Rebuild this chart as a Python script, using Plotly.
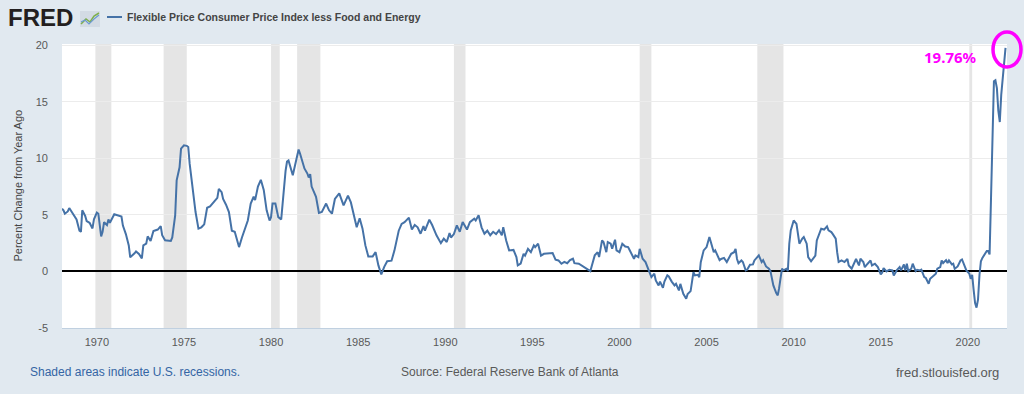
import plotly.graph_objects as go

# ---------------- data ----------------
dates_a = [
    "1968-01", "1968-02", "1968-03", "1968-05", "1968-06", "1968-08", "1968-09", "1968-11",
    "1969-01", "1969-02", "1969-03", "1969-05", "1969-06", "1969-08", "1969-10", "1969-11",
    "1970-01", "1970-02", "1970-04", "1970-05", "1970-06", "1970-08", "1970-09", "1970-10",
    "1971-01", "1971-04", "1971-06", "1971-07", "1971-09", "1971-11", "1971-12",
    "1972-03", "1972-04", "1972-06", "1972-08", "1972-09", "1972-11", "1972-12",
    "1973-02", "1973-04", "1973-07", "1973-09", "1973-10", "1973-12",
    "1974-04", "1974-05", "1974-07", "1974-08", "1974-10", "1974-11",
    "1975-01", "1975-03", "1975-04", "1975-05", "1975-07", "1975-08", "1975-09", "1975-11",
    "1976-01", "1976-03", "1976-05", "1976-07", "1976-10", "1976-12",
]
values_a = [
    5.55, 5.4, 5.1, 5.3, 5.6, 5.2, 4.9, 4.6,
    3.6, 3.5, 5.4, 4.9, 4.45, 4.3, 3.8, 4.6,
    5.2, 5.1, 3.1, 3.5, 4.35, 4.1, 4.6, 4.3,
    5.05, 4.95, 4.85, 4.05, 3.3, 2.3, 1.25,
    1.6, 1.77, 1.55, 1.15, 2.3, 2.45, 3.1,
    2.7, 3.57, 3.7, 4.0, 3.2, 2.75,
    2.7, 3.0, 4.96, 8.05, 9.2, 10.85,
    11.15, 11.1, 11.0, 9.5, 7.46, 6.7, 5.25, 3.78,
    3.9, 4.16, 5.63, 5.75, 6.2, 6.5,
]

dates_b = [
    "1977-01", "1977-03", "1977-04", "1977-06", "1977-08", "1977-10", "1977-12",
    "1978-03", "1978-05", "1978-09", "1978-11",
    "1979-01", "1979-02", "1979-04", "1979-06", "1979-08", "1979-10", "1979-12",
    "1980-01", "1980-02", "1980-04", "1980-06", "1980-08", "1980-09", "1980-11", "1980-12",
    "1981-01", "1981-04", "1981-06", "1981-08", "1981-09", "1981-10", "1981-12",
    "1982-02", "1982-03", "1982-04", "1982-05", "1982-08", "1982-10", "1982-12",
    "1983-03", "1983-05", "1983-07", "1983-09", "1983-12",
    "1984-03", "1984-06", "1984-08", "1984-10", "1984-12",
    "1985-02", "1985-04", "1985-06", "1985-08", "1985-11",
    "1986-01", "1986-03", "1986-05", "1986-07", "1986-09", "1986-12",
]
values_b = [
    7.3, 7.0, 6.4, 5.9, 5.25, 3.6, 3.5,
    2.15, 3.0, 4.5, 6.0,
    6.6, 6.3, 7.5, 8.1, 7.2, 5.4, 4.5,
    4.8, 6.0, 6.0, 4.8, 4.6, 6.3, 8.9, 9.7,
    9.8, 8.5, 9.6, 10.77, 10.4, 10.0, 9.1,
    8.65, 8.3, 8.6, 7.5, 6.6, 5.16, 5.25,
    6.0, 5.4, 5.1, 6.4, 6.9,
    5.84, 6.7, 6.1, 5.1, 3.9,
    4.7, 3.8, 2.3, 1.33, 1.33,
    1.7, 0.53, -0.27, 0.4, 0.9, 0.95,
]

dates_c = [
    "1987-02", "1987-05", "1987-07", "1987-09", "1987-12",
    "1988-02", "1988-04", "1988-06", "1988-08", "1988-10", "1988-11",
    "1989-02", "1989-04", "1989-07", "1989-10", "1989-12",
    "1990-02", "1990-04", "1990-05", "1990-07", "1990-09", "1990-11",
    "1991-01", "1991-04", "1991-06", "1991-09", "1991-10", "1991-12",
    "1992-02", "1992-04", "1992-06", "1992-08", "1992-10", "1992-12",
    "1993-02", "1993-04", "1993-05", "1993-07", "1993-09", "1993-12",
    "1994-02", "1994-03", "1994-05", "1994-07", "1994-08", "1994-10", "1994-12",
    "1995-02", "1995-03", "1995-05", "1995-07", "1995-09", "1995-12",
    "1996-03", "1996-05", "1996-07", "1996-09", "1996-11",
    "1997-01", "1997-03", "1997-05", "1997-06", "1997-09", "1997-12",
    "1998-03", "1998-05", "1998-06", "1998-08", "1998-10", "1998-11",
    "1999-01", "1999-02", "1999-04", "1999-05", "1999-07", "1999-08", "1999-10", "1999-11",
]
values_c = [
    1.86, 3.6, 4.2, 4.35, 4.75,
    3.7, 4.1, 3.9, 3.33, 4.0, 3.6,
    4.57, 4.1, 3.19, 2.5, 2.9,
    2.6, 3.4, 3.0, 3.3, 4.07, 3.5,
    4.36, 3.7, 4.36, 4.66, 4.5, 4.96,
    3.9, 3.33, 3.6, 3.2, 3.5, 3.3,
    3.63, 3.2, 3.9, 2.74, 1.86, 1.9,
    1.27, 0.53, 0.7, 1.56, 1.4, 2.0, 1.7,
    2.3, 2.15, 2.45, 1.4, 1.56, 1.56,
    1.62, 1.04, 0.97, 0.68, 0.85,
    0.73, 1.0, 1.12, 0.73, 0.68, 0.44,
    0.24, 0.03, 0.5, 1.42, 1.7, 1.27,
    2.74, 2.6, 1.7, 2.6, 2.45, 2.0, 2.8, 1.86,
]

dates_d = [
    "2000-01", "2000-03", "2000-05", "2000-07", "2000-08", "2000-11", "2000-12",
    "2001-02", "2001-03", "2001-05", "2001-07", "2001-08", "2001-10", "2001-11",
    "2002-01", "2002-02", "2002-04", "2002-05", "2002-07", "2002-08", "2002-10", "2002-11",
    "2003-01", "2003-03", "2003-04", "2003-06", "2003-07", "2003-09", "2003-11", "2003-12",
    "2004-02", "2004-04", "2004-05", "2004-07", "2004-08", "2004-09", "2004-11",
    "2005-01", "2005-03", "2005-04", "2005-06", "2005-07", "2005-10", "2005-11",
    "2006-01", "2006-03", "2006-05", "2006-06", "2006-08", "2006-09", "2006-10", "2006-11",
    "2007-01", "2007-02", "2007-04", "2007-05", "2007-07", "2007-09", "2007-10", "2007-12",
]
values_d = [
    1.7, 2.45, 2.2, 2.15, 1.9, 1.12, 1.42,
    1.27, 2.0, 1.12, 0.83, 0.53, -0.06, -0.5,
    -0.2, -0.8, -1.24, -0.9, -1.45, -0.9, -0.35, -0.45,
    -0.9, -1.24, -1.1, -1.68, -1.1, -1.98, -2.42, -2.0,
    -1.74, -0.06, -0.35, -0.3, -0.5, 0.82, 1.86,
    2.15, 3.04, 2.6, 1.7, 1.86, 1.0, 1.1,
    1.2, 0.83, 1.42, 1.56, 1.7, 2.0, 1.1, 0.73,
    0.97, 0.83, 0.09, 0.15, 0.6, 0.62, 0.97, 1.27,
]

dates_e = [
    "2008-01", "2008-03", "2008-04", "2008-06", "2008-08", "2008-09", "2008-10", "2008-11",
    "2009-01", "2009-02", "2009-03", "2009-04", "2009-05", "2009-06", "2009-08", "2009-09", "2009-10", "2009-11",
    "2010-01", "2010-03", "2010-04", "2010-05", "2010-07", "2010-08", "2010-10", "2010-11",
    "2011-01", "2011-02", "2011-04", "2011-05", "2011-07", "2011-08", "2011-10", "2011-12",
    "2012-01", "2012-03", "2012-04", "2012-06", "2012-07", "2012-08", "2012-10", "2012-12",
    "2013-02", "2013-03", "2013-05", "2013-07", "2013-08", "2013-10", "2013-11",
    "2014-01", "2014-02", "2014-04", "2014-06", "2014-07", "2014-09", "2014-11",
]
values_e = [
    1.42, 0.83, 1.0, 0.44, 0.24, 0.03, -0.5, -1.24,
    -1.92, -2.12, -1.5, -0.65, 0.24, 0.1, 0.24, 0.03, 2.45, 3.63,
    4.5, 4.2, 3.48, 2.45, 2.9, 3.04, 2.45, 1.27,
    0.9, 1.1, 1.4, 2.74, 3.48, 3.77, 3.7, 3.98,
    3.63, 3.48, 3.3, 2.9, 1.7, 0.83, 0.97, 0.83,
    1.1, 0.53, 0.24, 0.83, 1.1, 0.53, 1.12,
    0.83, 0.38, 0.68, 0.97, 0.53, 0.68, 0.38,
]

dates_f = [
    "2015-01", "2015-02", "2015-03", "2015-05", "2015-07", "2015-09", "2015-10", "2015-12",
    "2016-02", "2016-03", "2016-05", "2016-06", "2016-07", "2016-08", "2016-10", "2016-11",
    "2017-01", "2017-02", "2017-04", "2017-05", "2017-07", "2017-08", "2017-10", "2017-11",
    "2018-01", "2018-03", "2018-04", "2018-06", "2018-07", "2018-08", "2018-10", "2018-11", "2018-12",
    "2019-02", "2019-03", "2019-04", "2019-06", "2019-07", "2019-08", "2019-09", "2019-11", "2019-12",
]
values_f = [
    -0.27, -0.1, 0.3, 0.0, 0.15, 0.09, -0.35, 0.09,
    0.38, 0.09, 0.62, 0.09, 0.68, 0.03, 0.24, 0.68,
    0.03, 0.15, 0.09, 0.15, -0.5, -0.56, -1.09, -0.65,
    -0.44, -0.2, 0.24, 0.38, 0.97, 0.74, 1.0, 0.74, 0.97,
    0.62, 0.68, 0.24, 0.44, 0.68, 0.97, 1.06, 0.38, 0.09,
]

dates_g = [
    "2020-01", "2020-02", "2020-03", "2020-04", "2020-05", "2020-06", "2020-07", "2020-08",
    "2020-09", "2020-10", "2020-11", "2020-12",
    "2021-01", "2021-02", "2021-03", "2021-04", "2021-05", "2021-06", "2021-07", "2021-08",
    "2021-09", "2021-10", "2021-11", "2021-12",
    "2022-01", "2022-02", "2022-03",
]
values_g = [
    -0.05, -0.2, -0.65, -0.3, -1.6, -2.8, -3.2, -2.5,
    -0.3, 0.9, 1.2, 1.4,
    1.6, 1.8, 1.8, 1.5, 6.5, 12.0, 16.8, 16.9,
    16.2, 14.2, 13.2, 15.6,
    17.3, 18.5, 19.76,
]

recession_start = ["1969-12-01", "1973-11-01", "1980-01-01", "1981-07-01",
                   "1990-07-01", "2001-03-01", "2007-12-01", "2020-02-01"]
recession_end = ["1970-11-01", "1975-03-01", "1980-07-01", "1982-11-01",
                 "1991-03-01", "2001-11-01", "2009-06-01", "2020-04-01"]

tick_years = [1970, 1975, 1980, 1985, 1990, 1995, 2000, 2005, 2010, 2015, 2020]
y_ticks = [-5, 0, 5, 10, 15, 20]

series_name = "Flexible Price Consumer Price Index less Food and Energy"
y_title = "Percent Change from Year Ago"
last_label = "19.76%"

dates = dates_a + dates_b + dates_c + dates_d + dates_e + dates_f + dates_g
values = values_a + values_b + values_c + values_d + values_e + values_f + values_g
assert len(dates) == len(values)

# ---------------- layout helpers (pixel -> paper) ----------------
W, H = 1024, 394
L, R, T, B = 62, 17, 44, 66
PW, PH = W - L - R, H - T - B


def px(x):
    return (x - L) / PW


def py(y):
    return (H - B - y) / PH


BLUE = "#4572a7"
FONT = "Liberation Sans, Arial, sans-serif"

fig = go.Figure()
fig.add_trace(go.Scatter(
    x=dates, y=values, mode="lines", name=series_name,
    line=dict(color=BLUE, width=2), hoverinfo="skip",
))

shapes = []
# recession shading
for s, e in zip(recession_start, recession_end):
    shapes.append(dict(type="rect", xref="x", yref="paper", x0=s, x1=e, y0=0, y1=1,
                       fillcolor="#e5e5e5", line=dict(width=0), layer="below"))
# legend line
shapes.append(dict(type="line", xref="paper", yref="paper",
                   x0=px(107), x1=px(122), y0=py(17), y1=py(17),
                   line=dict(color=BLUE, width=2)))
# FRED icon
shapes.append(dict(type="rect", xref="paper", yref="paper",
                   x0=px(80), x1=px(100), y0=py(27), y1=py(11),
                   fillcolor="#d3dbe4", line=dict(width=0)))
shapes.append(dict(type="path", xref="paper", yref="paper",
                   path="M %f %f L %f %f L %f %f L %f %f L %f %f" % (
                       px(81), py(24), px(86), py(19), px(90), py(22), px(94), py(16), px(99), py(13)),
                   line=dict(color="#7fb04a", width=1.5)))
shapes.append(dict(type="path", xref="paper", yref="paper",
                   path="M %f %f L %f %f L %f %f L %f %f L %f %f" % (
                       px(81), py(22), px(85), py(20), px(89), py(24), px(94), py(19), px(99), py(15)),
                   line=dict(color="#6d9bd1", width=1.2)))
# magenta circle around last value
shapes.append(dict(type="circle", xref="paper", yref="paper",
                   x0=px(993), x1=px(1021), y0=py(67), y1=py(32),
                   line=dict(color="#ff00ff", width=3.5)))

annotations = [
    dict(text="<b>FRED</b>", x=px(6), y=py(18), xref="paper", yref="paper",
         xanchor="left", yanchor="middle", showarrow=False,
         font=dict(family="Liberation Sans, Arial Black, sans-serif", size=24, color="#231f20")),
    dict(text="<b>" + series_name + "</b>", x=px(125), y=py(17), xref="paper", yref="paper",
         xanchor="left", yanchor="middle", showarrow=False,
         font=dict(family=FONT, size=10.5, color="#444444")),
    dict(text=y_title, x=px(17.5), y=0.5, xref="paper", yref="paper", textangle=-90,
         xanchor="center", yanchor="middle", showarrow=False,
         font=dict(family=FONT, size=11, color="#444444")),
    dict(text="Shaded areas indicate U.S. recessions.", x=px(28), y=py(372), xref="paper", yref="paper",
         xanchor="left", yanchor="middle", showarrow=False,
         font=dict(family=FONT, size=12, color="#3465a4")),
    dict(text="Source: Federal Reserve Bank of Atlanta", x=px(510), y=py(372), xref="paper", yref="paper",
         xanchor="center", yanchor="middle", showarrow=False,
         font=dict(family=FONT, size=12, color="#595959")),
    dict(text="fred.stlouisfed.org", x=px(1001), y=py(372), xref="paper", yref="paper",
         xanchor="right", yanchor="middle", showarrow=False,
         font=dict(family=FONT, size=13, color="#595959")),
    dict(text="<b>" + last_label + "</b>", x=px(950), y=py(57), xref="paper", yref="paper",
         xanchor="center", yanchor="middle", showarrow=False,
         font=dict(family="Noto Sans, DejaVu Sans, sans-serif", size=15, color="#ff00ff")),
]

fig.update_layout(
    width=W, height=H,
    margin=dict(l=L, r=R, t=T, b=B),
    paper_bgcolor="#e1e9f0",
    plot_bgcolor="#ffffff",
    showlegend=False,
    font=dict(family=FONT, size=11, color="#595959"),
    shapes=shapes,
    annotations=annotations,
    xaxis=dict(
        type="date",
        range=["1968-01-01", "2022-04-01"],
        tickvals=["%d-01-01" % y for y in tick_years],
        ticktext=[str(y) for y in tick_years],
        showgrid=False, zeroline=False,
        showline=True, linecolor="#c0d0e0", linewidth=1,
        ticks="", ticklabelstandoff=4,
        tickfont=dict(family=FONT, size=11, color="#595959"),
        fixedrange=True,
    ),
    yaxis=dict(
        range=[-5, 20.1],
        tickvals=y_ticks,
        ticktext=[str(v) for v in y_ticks],
        showgrid=True, gridcolor="#ececec", gridwidth=1,
        zeroline=True, zerolinecolor="#000000", zerolinewidth=2,
        showline=False, ticks="", ticklabelstandoff=13,
        tickfont=dict(family=FONT, size=11, color="#595959"),
        fixedrange=True,
    ),
)

fig.write_html("out.html", config={"displayModeBar": False},
               post_script="document.body.style.margin='0';document.body.style.padding='0';")
